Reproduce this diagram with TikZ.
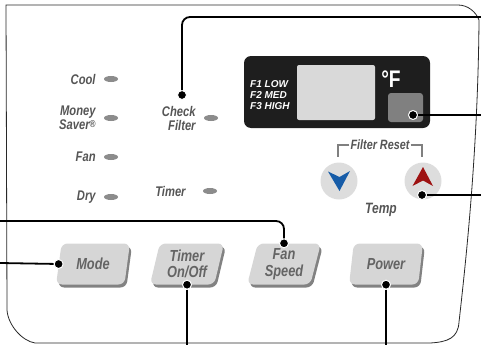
\documentclass[tikz,border=0pt]{standalone}
\usepackage{fontspec}
\setmainfont{Liberation Sans}
\newfontfamily\panelfont[FakeStretch=0.8]{Liberation Sans}
\newfontfamily\dispfont{Liberation Sans}
\usetikzlibrary{positioning,shapes.geometric,shadows}
\definecolor{LabelGray}{RGB}{85,85,85}
\definecolor{BtnText}{RGB}{100,100,100}
\definecolor{BtnFill}{RGB}{214,214,214}
\definecolor{BtnShadow}{RGB}{130,130,130}
\definecolor{LedGray}{RGB}{140,140,140}
\definecolor{PanelLine}{RGB}{40,40,40}
\definecolor{DispBlack}{RGB}{30,30,30}
\definecolor{ScreenGray}{RGB}{217,217,217}
\definecolor{KeyGray}{RGB}{128,128,128}
\definecolor{CircGray}{RGB}{221,221,221}
\definecolor{ArrowBlue}{RGB}{22,92,168}
\definecolor{ArrowRed}{RGB}{158,18,18}
\tikzset{
  led/.style={ellipse, fill=LedGray, minimum width=14pt, minimum height=6pt, inner sep=0pt},
  lbl/.style={text=LabelGray, align=right, inner sep=0pt,
    font=\panelfont\bfseries\itshape\fontsize{14}{14}\selectfont},
  btn/.style={trapezium, trapezium left angle=76, trapezium right angle=104,
    trapezium stretches=true, minimum width=74pt, minimum height=41pt,
    rounded corners=6pt, fill=BtnFill, text=BtnText, align=center, inner sep=0pt,
    font=\panelfont\bfseries\itshape\fontsize{16}{16.5}\selectfont,
    drop shadow={shadow xshift=2pt, shadow yshift=-3pt, fill=BtnShadow, opacity=1}},
  dot/.style={circle, fill=black, draw=white, line width=1pt, minimum size=9pt, inner sep=0pt},
  lead/.style={line width=1.8pt, black, rounded corners=8pt},
  tempkey/.style={circle, fill=CircGray, minimum size=37pt, inner sep=0pt},
  brk/.style={line width=2.8pt, KeyGray},
}
\begin{document}
\begin{tikzpicture}[x=1pt,y=-1pt]
  \useasboundingbox (0,0) rectangle (481,345);
  % panel outline
  \draw[PanelLine, line width=0.8pt] (6,5) -- (458,5)
    .. controls (468,5) and (476,12) .. (479,20)
    .. controls (478,150) and (466,260) .. (459,322)
    .. controls (458,338) and (448,342) .. (430,343) -- (35,343)
    .. controls (22,341) and (8,325) .. (7,310) -- cycle;

  % indicator lights
  \node[led] (cool) at (111,79) {};
  \node[led] (saver) at (111,118) {};
  \node[led] (fan) at (111,157) {};
  \node[led] (dry) at (111,197) {};
  \node[led] (filter) at (211,118) {};
  \node[led] (timerled) at (210,191) {};
  \node[lbl, left=8pt of cool] {Cool};
  \node[lbl, left=8pt of saver] {Money\\Saver{\fontsize{10}{10}\selectfont\raisebox{2pt}{®}}};
  \node[lbl, left=8pt of fan] {Fan};
  \node[lbl, left=8pt of dry] {Dry};
  \node[lbl, left=8pt of filter] (cflbl) {Check\\Filter};
  \node[lbl, left=17pt of timerled] {Timer};

  % display
  \node[fill=DispBlack, rounded corners=7pt, minimum width=186pt, minimum height=72pt] (disp) at (337,92) {};
  \node[fill=ScreenGray, rounded corners=2pt, minimum width=78pt, minimum height=55pt] (screen) at (336,92.5) {};
  \node[text=white, align=left, inner sep=0pt, anchor=west,
    font=\dispfont\bfseries\itshape\fontsize{10}{11}\selectfont] at (250,95.5) {F1 LOW\\F2 MED\\F3 HIGH};
  \node[text=white, inner sep=0pt, font=\panelfont\bfseries\fontsize{24}{24}\selectfont] (degf) at (391,79) {°F};
  \node[fill=KeyGray, rounded corners=3pt, minimum width=35pt, minimum height=29pt] (fkey) at (405.5,107.5) {};

  % temperature keys
  \node[text=LabelGray, inner sep=1pt, font=\panelfont\bfseries\itshape\fontsize{13.5}{13.5}\selectfont] (reset) at (380,145) {Filter Reset};
  \draw[brk] (reset.west) -| (338,157);
  \draw[brk] (reset.east) -| (422,157);
  \node[tempkey] (down) at (339,181) {};
  \node[tempkey] (up) at (423,181) {};
  \fill[ArrowBlue] (328,171.5) -- (339.5,177) -- (350,171) -- (339.5,191) -- cycle;
  \fill[ArrowRed] (423,167) -- (433,186) -- (423,180.5) -- (412.5,186) -- cycle;
  \node[lbl, font=\panelfont\bfseries\itshape\fontsize{15}{15}\selectfont] (temp) at (381,210) {Temp};

  % buttons
  \node[btn] (mode) at (93,264) {Mode};
  \node[btn] (timer) at (187,264) {Timer\\On/Off};
  \node[btn] (fanspeed) at (284,264) {Fan\\Speed};
  \node[btn] (power) at (386,264) {Power};

  % callout dots
  \node[dot] (cfdot) at (182,95) {};
  \node[dot] (dispdot) at (413,115) {};
  \node[dot] (updot) at (422,195) {};
  \node[dot] (mdot) at (mode.west) {};
  \node[dot] (tdot) at (timer.south) {};
  \node[dot] (fsdot) at (fanspeed.north) {};
  \node[dot] (pdot) at (power.south) {};

  \coordinate (cfend) at (481,17);
  \coordinate (dispend) at (481,115);
  \coordinate (upend) at (481,195);
  \coordinate (mend) at (0,263);
  \coordinate (fsend) at (0,221);
  \coordinate (tend) at (182,345);
  \coordinate (pend) at (385,345);

  % callout lines
  \draw[lead] (cfdot) |- (cfend);
  \draw[lead] (dispdot) -- (dispend);
  \draw[lead] (updot) -- (upend);
  \draw[lead] (mdot) -- (mend);
  \draw[lead] (fsdot) |- (fsend);
  \draw[lead] (tdot) -- (tdot |- tend);
  \draw[lead] (pdot) -- (pdot |- pend);
\end{tikzpicture}
\end{document}
